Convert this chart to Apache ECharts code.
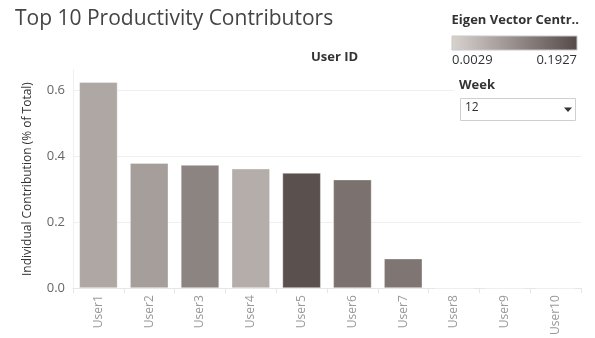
<!DOCTYPE html>
<html>
<head>
<meta charset="utf-8">
<script src="https://cdn.jsdelivr.net/npm/echarts@6/dist/echarts.min.js"></script>
<style>html,body{margin:0;padding:0;background:#fff;}#c{width:595px;height:338px;}</style>
</head>
<body>
<div id="c"></div>
<script>
const users = ['User1','User2','User3','User4','User5','User6','User7','User8','User9','User10'];
const contribution = [0.624, 0.379, 0.373, 0.362, 0.349, 0.329, 0.090, 0, 0, 0];
const eigenCentrality = [0.064, 0.077, 0.113, 0.055, 0.185, 0.138, 0.132, 0.0029, 0.0029, 0.0029];
const eigenRange = [0.0029, 0.1927];
const yTicks = [0, 0.2, 0.4, 0.6];
const weekValue = '12';

const chart = echarts.init(document.getElementById('c'), null, {renderer: 'canvas'});
const FONT = '"Open Sans", Lato, sans-serif';
const gridColor = '#efefef';

chart.setOption({
  animation: false,
  textStyle: {fontFamily: FONT},
  title: {
    text: 'Top 10 Productivity Contributors',
    left: 10, top: 4,
    textStyle: {fontSize: 21, fontWeight: 'normal', color: '#444', fontFamily: FONT}
  },
  grid: {left: 73, right: 14, top: 70, bottom: 47},
  visualMap: {
    show: false, type: 'continuous', dimension: 2, seriesIndex: 0,
    min: eigenRange[0], max: eigenRange[1],
    inRange: {color: ['#d9d3d0', '#554a47']}
  },
  xAxis: {
    type: 'category', data: users,
    axisLine: {show: true, lineStyle: {color: '#e6e6e6'}},
    axisTick: {show: true, length: 5, lineStyle: {color: '#e6e6e6'}},
    axisLabel: {rotate: 90, margin: 7, fontSize: 12, color: '#999', fontFamily: FONT},
    splitLine: {show: false}
  },
  yAxis: {
    type: 'value', min: 0, max: 0.66, interval: 0.2,
    name: 'Individual Contribution (% of Total)',
    nameLocation: 'middle', nameGap: 39,
    nameTextStyle: {fontSize: 12, color: '#333', fontFamily: FONT},
    axisLine: {show: true, lineStyle: {color: '#f0f0f0'}},
    axisTick: {show: false},
    axisLabel: {
      fontSize: 13, color: '#666', margin: 8, fontFamily: FONT,
      showMaxLabel: false,
      formatter: v => yTicks.some(t => Math.abs(t - v) < 1e-9) ? v.toFixed(1) : ''
    },
    splitLine: {show: true, lineStyle: {color: [gridColor, gridColor, gridColor, gridColor, 'rgba(0,0,0,0)']}}
  },
  series: [{
    type: 'bar',
    barWidth: '76%',
    data: users.map((u, i) => [u, contribution[i], eigenCentrality[i]]),
    itemStyle: {borderColor: 'rgba(255,255,255,0.35)', borderWidth: 1}
  }],
  graphic: [
    {type: 'text', left: 311, top: 51, style: {text: 'User ID', font: 'bold 13px ' + FONT, fill: '#333'}},
    {type: 'text', right: 16, top: 14, style: {text: 'Eigen Vector Centr..', font: 'bold 13px ' + FONT, fill: '#333'}},
    {type: 'rect', shape: {x: 452, y: 36, width: 125, height: 14},
      style: {fill: new echarts.graphic.LinearGradient(0, 0, 1, 0, [{offset: 0, color: '#d9d3d0'}, {offset: 1, color: '#554a47'}]), stroke: '#c8c8c8', lineWidth: 1}},
    {type: 'text', left: 452, top: 54, style: {text: eigenRange[0].toFixed(4), font: '13px ' + FONT, fill: '#333'}},
    {type: 'text', right: 18, top: 54, style: {text: eigenRange[1].toFixed(4), font: '13px ' + FONT, fill: '#333', align: 'right'}},
    {type: 'rect', z: 10, shape: {x: 454, y: 76, width: 128, height: 50}, style: {fill: '#fff'}},
    {type: 'text', z: 11, left: 459, top: 79, style: {text: 'Week', font: 'bold 13px ' + FONT, fill: '#333'}},
    {type: 'rect', z: 11, shape: {x: 460.5, y: 98.5, width: 115, height: 22}, style: {fill: '#fff', stroke: '#cfcfcf', lineWidth: 1}},
    {type: 'text', z: 12, left: 465, top: 102, style: {text: weekValue, font: '12px ' + FONT, fill: '#333'}},
    {type: 'polygon', z: 12, shape: {points: [[564, 107.5], [572, 107.5], [568, 112]]}, style: {fill: '#333'}}
  ]
});
</script>
</body>
</html>
